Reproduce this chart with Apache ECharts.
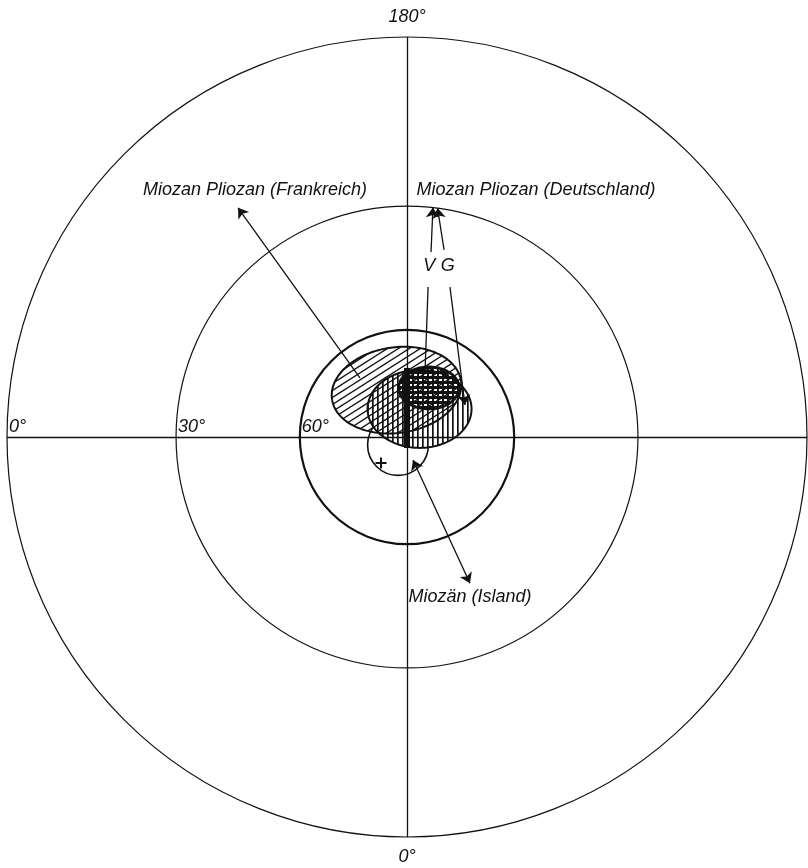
<!DOCTYPE html>
<html>
<head>
<meta charset="utf-8">
<script src="https://cdn.jsdelivr.net/npm/echarts@6/dist/echarts.min.js"></script>
<style>
  html, body { margin: 0; padding: 0; background: #fff; }
  #chart { width: 808px; height: 868px; }
</style>
</head>
<body>
<div id="chart"></div>
<script>
// ---- Polar net (stereographic, north pole in the centre) ----
const latCircles = [0, 30, 60];
const latCircleLabels = ['0°', '30°', '60°'];
const meridianLon = [180, 0];
const meridianLabels = ['180°', '0°'];

// ---- Confidence ovals of the virtual pole positions ----
// centre latitude / longitude (deg), semi-axes (deg of arc), tilt (deg)
const ovalNames = ['Deutschland G', 'Frankreich', 'Deutschland V'];
const ovalLat = [81.2, 76.3, 74.7];
const ovalLon = [155.9, 192.6, 156.0];
const ovalSemiA = [14.8, 18.4, 8.5];
const ovalSemiB = [11.1, 12.1, 5.9];
const ovalTilt = [0, 8, 0];

// ---- Island: circle of confidence and pole mark ----
const islandCircleLat = [86.55];
const islandCircleLon = [311.6];
const islandCircleRadius = [8.7];
const islandPoleLat = [79.5];
const islandPoleLon = [315];

// ---- Thickened meridian segment through the ovals: [lat, lon] ----
const meridianBarFrom = [70.4, 180];
const meridianBarTo = [86.85, 0];

// ---- Leader lines: [lat, lon] start and end, arrow heads ----
const leaderFrom = [[68.6, 218.5], [83.2, 14.6], [40.0, 172.6], [39.0, 168.8], [48.5, 172.0], [47.4, 164.0]];
const leaderTo   = [[19.1, 216.4], [46.6, 23.3], [30.0, 173.55], [30.0, 172.4], [70.9, 164.5], [71.2, 118.9]];
const leaderHeads = ['end', 'both', 'end', 'end', 'none', 'end'];

// ---- Annotations: text anchored at [lat, lon] ----
const noteTexts = ['Miozan Pliozan (Frankreich)', 'Miozan Pliozan (Deutschland)', 'V', 'G', 'Miozän (Island)'];
const noteLat = [18.1, 20.3, 43.4, 42.6, 43.5];
const noteLon = [211.6, 152.4, 172.6, 166.6, 21.5];

// ---------------------------------------------------------------
const D = Math.PI / 180;
const INK = '#111';
const FONT = 'italic 18px "Liberation Sans", Arial, sans-serif';

// stereographic projection onto the unit disc (equator = radius 1)
function proj(lat, lon) {
  const r = Math.tan((90 - lat) * D / 2);
  return [r * Math.sin(lon * D), -r * Math.cos(lon * D)];
}
// plane units per degree of arc at a given latitude
function degScale(lat) {
  const c = (90 - lat) * D / 2;
  return 0.5 * D / (Math.cos(c) * Math.cos(c));
}

function hatch(kind) {
  const cv = document.createElement('canvas');
  let w = 5, h = 5;
  if (kind === 'diag') { w = 22; h = 14; }
  cv.width = w; cv.height = h;
  const g = cv.getContext('2d');
  if (kind === 'vert') {
    g.fillStyle = '#fff'; g.fillRect(0, 0, w, h);
    g.fillStyle = INK; g.fillRect(2, 0, 1.7, h);
  } else if (kind === 'grid') {
    g.fillStyle = INK; g.fillRect(0, 1, w, 3); g.fillRect(2, 0, 1.8, h);
  } else {
    g.strokeStyle = INK; g.lineWidth = 1.4; g.beginPath();
    for (let k = -3 * w * h; k <= 4 * w * h; k += w * h / 2) {
      g.moveTo(-w, (k + w * h) / w);
      g.lineTo(2 * w, (k - 2 * w * h) / w);
    }
    g.stroke();
  }
  return { image: cv, repeat: 'repeat' };
}

const ovalFill = [hatch('vert'), hatch('diag'), hatch('grid')];
const ovalStroke = [2, 2, 2.8];

function ovalSeries(i, z) {
  const c = proj(ovalLat[i], ovalLon[i]);
  return {
    type: 'custom', name: ovalNames[i], coordinateSystem: 'cartesian2d', z: z, silent: true,
    data: [[c[0], c[1], i]],
    renderItem: function (params, api) {
      const k = api.value(2);
      const s = degScale(ovalLat[k]);
      const a = ovalSemiA[k] * s, b = ovalSemiB[k] * s, t = ovalTilt[k] * D;
      const cx = api.value(0), cy = api.value(1);
      const pts = [];
      for (let n = 0; n < 180; n++) {
        const u = n / 180 * 2 * Math.PI;
        const ex = a * Math.cos(u), ey = b * Math.sin(u);
        pts.push(api.coord([cx + ex * Math.cos(t) - ey * Math.sin(t), cy + ex * Math.sin(t) + ey * Math.cos(t)]));
      }
      return { type: 'polygon', shape: { points: pts },
        style: { fill: ovalFill[k], stroke: INK, lineWidth: ovalStroke[k] } };
    }
  };
}

function leaderData(kind) {
  const out = [];
  leaderFrom.forEach((f, i) => {
    if (leaderHeads[i] === kind) out.push({ coords: [proj(f[0], f[1]), proj(leaderTo[i][0], leaderTo[i][1])] });
  });
  return out;
}
function leaderSeries(kind, symbol) {
  return {
    type: 'lines', coordinateSystem: 'cartesian2d', z: 8, silent: true,
    symbol: symbol, symbolSize: 10,
    lineStyle: { color: INK, width: 1.3, opacity: 1 },
    itemStyle: { color: INK },
    data: leaderData(kind)
  };
}

const chart = echarts.init(document.getElementById('chart'), null, { renderer: 'canvas' });
chart.setOption({
  animation: false,
  backgroundColor: '#fff',
  grid: { left: 7, top: 37, width: 800, height: 800 },
  xAxis: { type: 'value', min: -1, max: 1, show: false },
  yAxis: { type: 'value', min: -1, max: 1, show: false },
  series: [
    // circles of latitude
    {
      type: 'custom', coordinateSystem: 'cartesian2d', z: 1, silent: true,
      data: latCircles.map((lat, i) => [0, 0, lat, i]),
      renderItem: function (params, api) {
        const i = api.value(3);
        const r = Math.tan((90 - api.value(2)) * D / 2);
        const c = api.coord([0, 0]);
        const rr = api.size([r, 0])[0];
        const lp = api.coord([-r, 0]);
        return { type: 'group', children: [
          { type: 'circle', shape: { cx: c[0], cy: c[1], r: rr },
            style: { fill: 'none', stroke: INK, lineWidth: i === 2 ? 2.2 : 1.2 } },
          { type: 'text', x: lp[0] + 2, y: lp[1] - 10,
            style: { text: latCircleLabels[i], font: FONT, fill: INK, align: 'left', verticalAlign: 'middle' } }
        ] };
      }
    },
    // meridian labels at the rim
    {
      type: 'custom', coordinateSystem: 'cartesian2d', z: 1, silent: true,
      data: meridianLon.map((lon, i) => { const p = proj(0, lon); return [p[0], p[1], i]; }),
      renderItem: function (params, api) {
        const i = api.value(2);
        const p = api.coord([api.value(0), api.value(1)]);
        const up = api.value(1) > 0;
        return { type: 'text', x: p[0], y: p[1] + (up ? -20 : 20),
          style: { text: meridianLabels[i], font: FONT, fill: INK, align: 'center', verticalAlign: 'middle' } };
      }
    },
    // Island circle of confidence
    {
      type: 'custom', coordinateSystem: 'cartesian2d', z: 2, silent: true,
      data: islandCircleLat.map((lat, i) => { const p = proj(lat, islandCircleLon[i]); return [p[0], p[1], i]; }),
      renderItem: function (params, api) {
        const i = api.value(2);
        const c = api.coord([api.value(0), api.value(1)]);
        const rr = api.size([islandCircleRadius[i] * degScale(islandCircleLat[i]), 0])[0];
        return { type: 'circle', shape: { cx: c[0], cy: c[1], r: rr },
          style: { fill: 'none', stroke: INK, lineWidth: 1.6 } };
      }
    },
    ovalSeries(0, 3),
    ovalSeries(1, 4),
    ovalSeries(2, 5),
    // Island pole mark
    {
      type: 'custom', coordinateSystem: 'cartesian2d', z: 6, silent: true,
      data: islandPoleLat.map((lat, i) => proj(lat, islandPoleLon[i])),
      renderItem: function (params, api) {
        const p = api.coord([api.value(0), api.value(1)]);
        const s = 5.5;
        return { type: 'group', children: [
          { type: 'line', shape: { x1: p[0] - s, y1: p[1], x2: p[0] + s, y2: p[1] }, style: { stroke: INK, lineWidth: 2 } },
          { type: 'line', shape: { x1: p[0], y1: p[1] - s, x2: p[0], y2: p[1] + s }, style: { stroke: INK, lineWidth: 2 } }
        ] };
      }
    },
    // diameters 0°-180° and 90°-270°
    {
      type: 'lines', coordinateSystem: 'cartesian2d', z: 7, silent: true, symbol: 'none',
      lineStyle: { color: INK, width: 1.3, opacity: 1 },
      data: [
        { coords: [proj(0, 90), proj(0, 270)] },
        { coords: [proj(0, 0), proj(0, 180)] }
      ]
    },
    // thickened meridian segment
    {
      type: 'lines', coordinateSystem: 'cartesian2d', z: 7, silent: true, symbol: 'none',
      lineStyle: { color: INK, width: 6, opacity: 1 },
      data: [{ coords: [proj(meridianBarFrom[0], meridianBarFrom[1]), proj(meridianBarTo[0], meridianBarTo[1])] }]
    },
    leaderSeries('end', ['none', 'arrow']),
    leaderSeries('both', ['arrow', 'arrow']),
    leaderSeries('none', ['none', 'none']),
    // annotations
    {
      type: 'custom', coordinateSystem: 'cartesian2d', z: 9, silent: true,
      data: noteLat.map((lat, i) => { const p = proj(lat, noteLon[i]); return [p[0], p[1], i]; }),
      renderItem: function (params, api) {
        const i = api.value(2);
        const p = api.coord([api.value(0), api.value(1)]);
        return { type: 'text', x: p[0], y: p[1],
          style: { text: noteTexts[i], font: FONT, fill: INK, align: 'center', verticalAlign: 'middle' } };
      }
    }
  ]
});
</script>
</body>
</html>
